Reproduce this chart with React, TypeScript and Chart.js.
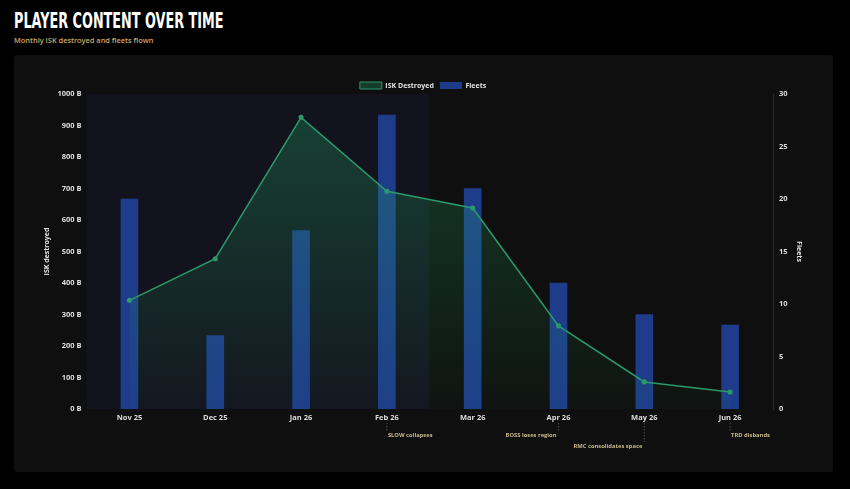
import React, { useEffect, useRef } from "react";
import { Chart, registerables } from "chart.js";

Chart.register(...registerables);

const categories = ["Nov 25", "Dec 25", "Jan 26", "Feb 26", "Mar 26", "Apr 26", "May 26", "Jun 26"];
const iskDestroyed = [345, 477, 926, 691, 638, 264, 86, 54];
const fleets = [20, 7, 17, 28, 21, 12, 9, 8];
const iskTicksMax = 1000;
const fleetTicksMax = 30;
const shadedUntil = "Feb 26";
const eventCategories = ["Feb 26", "Apr 26", "May 26", "Jun 26"];
const eventLabels = ["SLOW collapses", "BOSS loses region", "RMC consolidates space", "TRD disbands"];
const eventAlign = ["left", "right", "right", "left"];
const eventRow = [0, 0, 1, 0];

const FONT = "'Open Sans', 'DejaVu Sans', sans-serif";

const legendFitPlugin = {
  id: "legendFit",
  beforeInit(chart: any) {
    const lg = chart.legend;
    if (!lg) return;
    const orig = lg.fit;
    lg.fit = function () {
      orig.call(this);
      this.height -= 5;
    };
  },
};

const shadePlugin = {
  id: "shade",
  beforeDatasetsDraw(chart: any) {
    const { ctx, chartArea, scales } = chart;
    const idx = categories.indexOf(shadedUntil);
    const x1 = (scales.x.getPixelForValue(idx) + scales.x.getPixelForValue(idx + 1)) / 2;
    ctx.save();
    ctx.fillStyle = "#13131e";
    ctx.fillRect(chartArea.left, chartArea.top, x1 - chartArea.left, chartArea.bottom - chartArea.top);
    ctx.restore();
  },
};

const eventsPlugin = {
  id: "events",
  afterDraw(chart: any) {
    const { ctx, chartArea, scales } = chart;
    ctx.save();
    eventCategories.forEach((cat, i) => {
      const x = scales.x.getPixelForValue(categories.indexOf(cat));
      const y0 = chartArea.bottom + 14;
      const ty = chartArea.bottom + 26 + eventRow[i] * 11;
      ctx.strokeStyle = "rgba(150,150,150,0.6)";
      ctx.lineWidth = 0.8;
      ctx.setLineDash([1.5, 1.5]);
      ctx.beginPath();
      ctx.moveTo(x, y0);
      ctx.lineTo(x, ty - 4);
      ctx.stroke();
      ctx.setLineDash([]);
      ctx.fillStyle = "#c9b98a";
      ctx.font = `bold 5.8px ${FONT}`;
      ctx.textBaseline = "middle";
      ctx.textAlign = eventAlign[i] === "left" ? "left" : "right";
      ctx.fillText(eventLabels[i], eventAlign[i] === "left" ? x + 1 : x - 2, ty);
    });
    ctx.restore();
  },
};

export default function App() {
  const ref = useRef<HTMLCanvasElement>(null);
  useEffect(() => {
    const canvas = ref.current!;
    const chart = new Chart(canvas, {
      type: "bar",
      data: {
        labels: categories,
        datasets: [
          {
            type: "line",
            label: "ISK Destroyed",
            data: iskDestroyed,
            yAxisID: "y",
            borderColor: "#2a9a6c",
            borderWidth: 1.5,
            pointRadius: 1.8,
            pointBackgroundColor: "#2a9a6c",
            pointBorderColor: "#2a9a6c",
            tension: 0,
            fill: true,
            backgroundColor: (c: any) => {
              const { chart } = c;
              const { ctx, chartArea } = chart;
              if (!chartArea) return "rgba(34,160,100,0.2)";
              const g = ctx.createLinearGradient(0, chartArea.top, 0, chartArea.bottom);
              g.addColorStop(0, "rgba(34,170,100,0.32)");
              g.addColorStop(1, "rgba(34,170,100,0.03)");
              return g;
            },
          } as any,
          {
            type: "bar",
            label: "Fleets",
            data: fleets,
            yAxisID: "y1",
            backgroundColor: "#1e3c8a",
            borderWidth: 0,
            barThickness: 17,
          },
        ],
      },
      options: {
        animation: false,
        responsive: false,
        maintainAspectRatio: false,
        layout: { padding: { left: 28, right: 29, top: 21, bottom: 46 } },
        plugins: {
          legend: {
            position: "top",
            labels: {
              color: "#e0e0e0",
              boxWidth: 22,
              boxHeight: 7,
              font: { family: FONT, size: 7, weight: "bold" },
              padding: 6,
              generateLabels: () => [
                { text: "ISK Destroyed", fillStyle: "#163d2c", strokeStyle: "#2a9a6c", lineWidth: 1, fontColor: "#e0e0e0", datasetIndex: 0 },
                { text: "Fleets", fillStyle: "#1e3c8a", strokeStyle: "#1e3c8a", lineWidth: 0, fontColor: "#e0e0e0", datasetIndex: 1 },
              ],
            },
          },
          tooltip: { enabled: false },
        },
        scales: {
          x: {
            grid: { display: false, drawTicks: false },
            border: { display: false },
            ticks: { color: "#dedede", font: { family: FONT, size: 7.5, weight: "bold" }, padding: 4 },
          },
          y: {
            position: "left",
            min: 0,
            max: iskTicksMax,
            grid: { display: false, drawTicks: false },
            border: { display: false },
            ticks: {
              stepSize: 100,
              color: "#dedede",
              font: { family: FONT, size: 7.5, weight: "bold" },
              padding: 5,
              callback: (v: any) => `${v} B`,
            },
            title: { display: true, text: "ISK destroyed", color: "#e0e0e0", font: { family: FONT, size: 7, weight: "bold" }, padding: 1 },
          },
          y1: {
            position: "right",
            min: 0,
            max: fleetTicksMax,
            grid: { display: false, drawTicks: false },
            border: { display: true, color: "rgba(255,255,255,0.1)" },
            ticks: { stepSize: 5, color: "#dedede", font: { family: FONT, size: 7.5, weight: "bold" }, padding: 6 },
            title: { display: true, text: "Fleets", color: "#e0e0e0", font: { family: FONT, size: 7, weight: "bold" }, padding: 1 },
          },
        },
      },
      plugins: [legendFitPlugin, shadePlugin, eventsPlugin],
    });
    return () => chart.destroy();
  }, []);

  return (
    <div style={{ position: "fixed", inset: 0, background: "#000", overflow: "hidden" }}>
      <div
        style={{
          position: "absolute",
          left: 14,
          top: 9,
          fontFamily: "'DejaVu Sans', sans-serif",
          fontWeight: 700,
          fontSize: 21,
          color: "#fff",
          lineHeight: "24px",
          whiteSpace: "nowrap",
          transform: "scaleX(0.61)",
          transformOrigin: "left top",
        }}
      >
        PLAYER CONTENT OVER TIME
      </div>
      <div
        style={{
          position: "absolute",
          left: 14,
          top: 34,
          fontFamily: FONT,
          fontWeight: 600,
          fontSize: 7.4,
          color: "#c9a96b",
          lineHeight: "12px",
          whiteSpace: "nowrap",
        }}
      >
        Monthly ISK destroyed and fleets flown
      </div>
      <div
        style={{
          position: "absolute",
          left: 14,
          top: 55,
          width: 819,
          height: 417,
          background: "#0f0f0f",
          borderRadius: 3,
        }}
      >
        <canvas ref={ref} width={819} height={417} style={{ display: "block", width: 819, height: 417 }} />
      </div>
    </div>
  );
}
